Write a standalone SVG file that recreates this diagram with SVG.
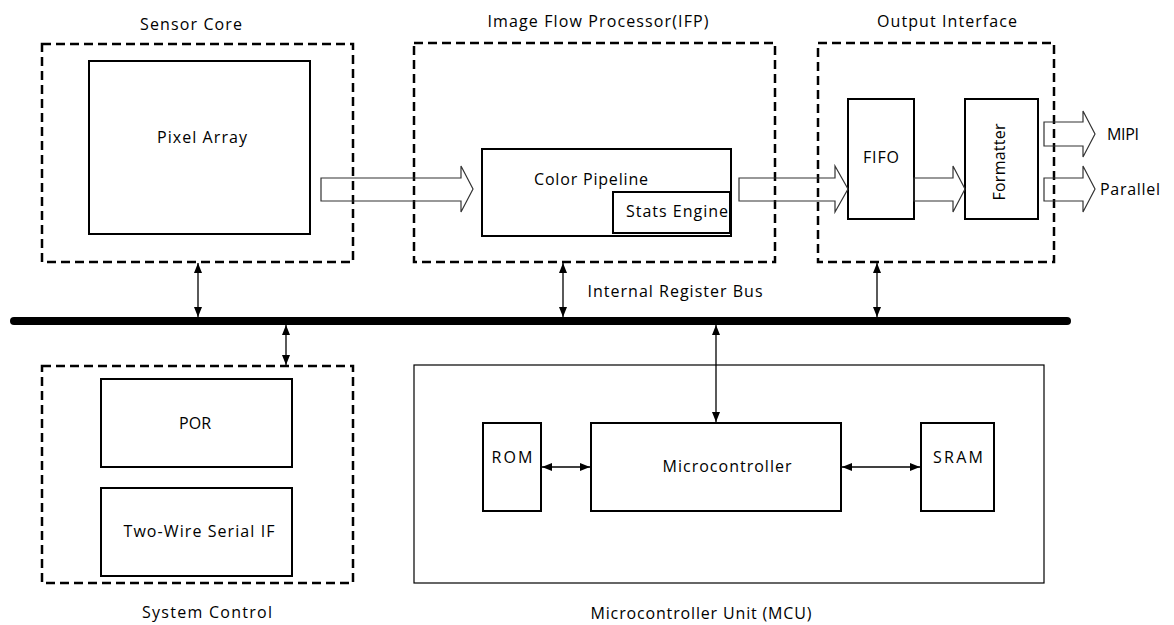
<svg xmlns="http://www.w3.org/2000/svg" width="1174" height="625" viewBox="0 0 1174 625">
<style>
  text { font-family: "Open Sans", "Noto Sans", "DejaVu Sans", sans-serif; font-size: 16px; fill: #000; text-anchor: middle; }
  .dash { fill: none; stroke: #000; stroke-width: 2.5; stroke-dasharray: 9 5; }
  .box { fill: #fff; stroke: #000; stroke-width: 2; }
  .thin { fill: none; stroke: #000; stroke-width: 1.2; }
  .block { fill: none; stroke: #333; stroke-width: 1.2; stroke-linejoin: miter; }
  .conn { stroke: #000; stroke-width: 1.3; fill: none; marker-start: url(#ah); marker-end: url(#ah); }
  .bus { stroke: #000; stroke-width: 8; stroke-linecap: round; }
</style>
<defs>
  <marker id="ah" viewBox="0 0 10 8" refX="10" refY="4" markerWidth="10" markerHeight="8" markerUnits="userSpaceOnUse" orient="auto-start-reverse">
    <path d="M0,0 L10,4 L0,8 Z" fill="#000"/>
  </marker>
</defs>
<rect width="1174" height="625" fill="#fff"/>

<g id="sensor-core">
  <rect class="dash" x="42" y="44" width="311" height="218"/>
  <text x="191" y="30" textLength="102" lengthAdjust="spacing">Sensor Core</text>
</g>
<g id="pixel-array">
  <rect class="box" x="89" y="61" width="221" height="173"/>
  <text x="202" y="143" textLength="90" lengthAdjust="spacing">Pixel Array</text>
</g>

<g id="ifp">
  <rect class="dash" x="414" y="43" width="361" height="219"/>
  <text x="598" y="27" textLength="221" lengthAdjust="spacing">Image Flow Processor(IFP)</text>
</g>
<g id="color-pipeline">
  <rect class="box" x="482" y="149" width="249" height="87"/>
  <text x="591" y="185" textLength="114" lengthAdjust="spacing">Color Pipeline</text>
</g>
<g id="stats-engine">
  <rect class="box" x="613" y="192" width="117" height="41"/>
  <text x="677" y="217" textLength="102" lengthAdjust="spacing">Stats Engine</text>
</g>

<g id="output-interface">
  <rect class="dash" x="818" y="43" width="236" height="219"/>
  <text x="947" y="27" textLength="140" lengthAdjust="spacing">Output Interface</text>
</g>
<g id="fifo">
  <rect class="box" x="848" y="99" width="66" height="120"/>
  <text x="881" y="163" textLength="36" lengthAdjust="spacing">FIFO</text>
</g>
<g id="formatter">
  <rect class="box" x="965" y="99" width="73" height="120"/>
  <text transform="translate(1005,162) rotate(-90)" x="0" y="0" textLength="77" lengthAdjust="spacing">Formatter</text>
</g>
<g id="mipi-label">
  <text x="1123" y="140" textLength="32" lengthAdjust="spacing">MIPI</text>
</g>
<g id="parallel-label">
  <text x="1130" y="195" textLength="60" lengthAdjust="spacing">Parallel</text>
</g>

<g id="bus">
  <line class="bus" x1="14" y1="321" x2="1067" y2="321"/>
  <text x="675" y="297" textLength="175" lengthAdjust="spacing">Internal Register Bus</text>
</g>

<g id="system-control">
  <rect class="dash" x="42" y="366" width="311" height="217"/>
  <text x="207" y="618" textLength="130" lengthAdjust="spacing">System Control</text>
</g>
<g id="por">
  <rect class="box" x="101" y="379" width="191" height="88"/>
  <text x="195" y="429" textLength="32" lengthAdjust="spacing">POR</text>
</g>
<g id="two-wire">
  <rect class="box" x="101" y="488" width="191" height="88"/>
  <text x="199" y="537" textLength="151" lengthAdjust="spacing">Two-Wire Serial IF</text>
</g>

<g id="mcu">
  <rect class="thin" x="414" y="365" width="630" height="218"/>
  <text x="701" y="619" textLength="221" lengthAdjust="spacing">Microcontroller Unit (MCU)</text>
</g>
<g id="rom">
  <rect class="box" x="483" y="423" width="58" height="88"/>
  <text x="512" y="463" textLength="41" lengthAdjust="spacing">ROM</text>
</g>
<g id="microcontroller">
  <rect class="box" x="591" y="423" width="250" height="88"/>
  <text x="727" y="472" textLength="129" lengthAdjust="spacing">Microcontroller</text>
</g>
<g id="sram">
  <rect class="box" x="921" y="423" width="73" height="88"/>
  <text x="958" y="463" textLength="50" lengthAdjust="spacing">SRAM</text>
</g>

<g id="connectors">
  <polygon class="block" points="321,178 461,178 461,166 473,189 461,212 461,201 321,201"/>
  <polygon class="block" points="739,178 835,178 835,166 848,189 835,212 835,201 739,201"/>
  <polygon class="block" points="914,178 953,178 953,166 965,189 953,212 953,201 914,201"/>
  <polygon class="block" points="1044,122 1083,122 1083,111 1095,134 1083,157 1083,146 1044,146"/>
  <polygon class="block" points="1044,178 1083,178 1083,166 1095,189 1083,212 1083,201 1044,201"/>
  <line class="conn" x1="198" y1="263" x2="198" y2="317"/>
  <line class="conn" x1="563" y1="263" x2="563" y2="317"/>
  <line class="conn" x1="877" y1="263" x2="877" y2="317"/>
  <line class="conn" x1="286" y1="325" x2="286" y2="365"/>
  <line class="conn" x1="716" y1="325" x2="716" y2="422"/>
  <line class="conn" x1="542" y1="467" x2="590" y2="467"/>
  <line class="conn" x1="842" y1="467" x2="920" y2="467"/>
</g>
</svg>
